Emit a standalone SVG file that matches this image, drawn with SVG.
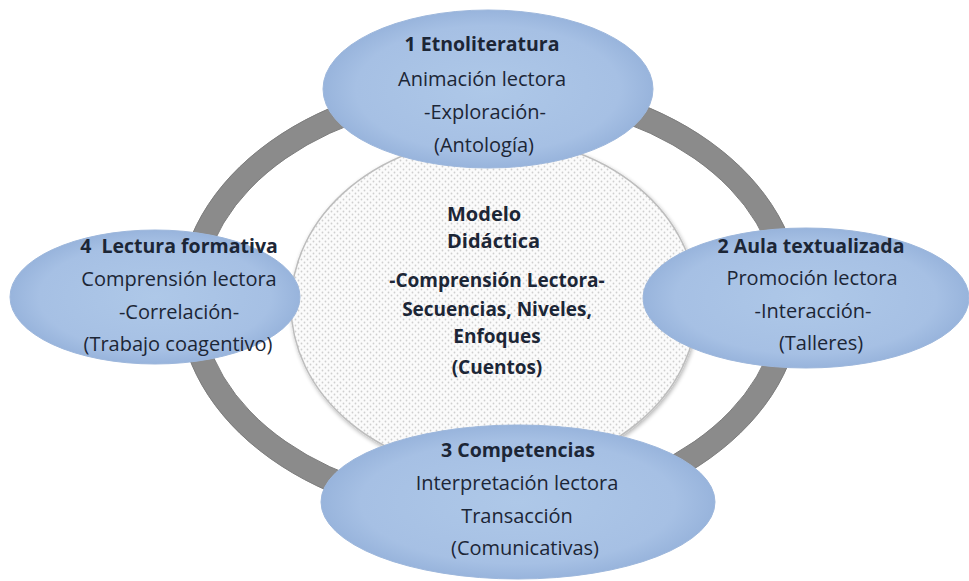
<svg xmlns="http://www.w3.org/2000/svg" width="969" height="581" viewBox="0 0 969 581">
<defs>
<radialGradient id="blue" cx="50%" cy="50%" r="50%">
<stop offset="0%" stop-color="#aec8e8"/>
<stop offset="80%" stop-color="#a6c0e4"/>
<stop offset="100%" stop-color="#98b4dc"/>
</radialGradient>
<pattern id="dots" width="6" height="6" patternUnits="userSpaceOnUse">
<rect width="6" height="6" fill="#fbfbfb"/>
<circle cx="1.5" cy="1.5" r="0.9" fill="#cfcfcf"/>
<circle cx="4.5" cy="4.5" r="0.9" fill="#cfcfcf"/>
</pattern>
<filter id="shadow" x="-10%" y="-10%" width="120%" height="120%">
<feGaussianBlur in="SourceAlpha" stdDeviation="2"/>
<feOffset dx="1" dy="2"/>
<feComponentTransfer><feFuncA type="linear" slope="0.3"/></feComponentTransfer>
<feMerge><feMergeNode/><feMergeNode in="SourceGraphic"/></feMerge>
</filter>
</defs>
<style>
.node{fill:url(#blue);stroke:#9db7dc;stroke-width:1}
.t{font-family:"Open Sans","Liberation Sans",sans-serif;fill:#1c2636;text-anchor:middle}
.b{font-weight:bold;font-size:19.5px}
.r{font-size:20px}
.c{font-weight:bold;font-size:19px}
.ring{fill:none;stroke:#8b8b8b;stroke-width:23}
.ringedge{fill:none;stroke:#7d7d7d;stroke-width:1}
</style>
<rect width="969" height="581" fill="#ffffff"/>
<g id="connectors">
<ellipse class="ring" cx="490" cy="300" rx="300" ry="212"/>
<ellipse class="ringedge" cx="490" cy="300" rx="311.5" ry="223.5"/>
<ellipse class="ringedge" cx="490" cy="300" rx="288.5" ry="200.5"/>
</g>
<g id="node-center">
<ellipse cx="494" cy="305" rx="203" ry="167" fill="url(#dots)" stroke="#bdbdbd" stroke-width="1.5" filter="url(#shadow)"/>
<text class="t" x="447" y="221" font-weight="bold" font-size="20" style="text-anchor:start">Modelo</text>
<text class="t" x="447" y="248" font-weight="bold" font-size="20" style="text-anchor:start">Didáctica</text>
<text class="t c" x="497" y="287">-Comprensión Lectora-</text>
<text class="t c" x="497" y="316">Secuencias, Niveles,</text>
<text class="t c" x="497" y="343">Enfoques</text>
<text class="t c" x="497" y="374">(Cuentos)</text>
</g>
<g id="node-1">
<ellipse class="node" cx="488" cy="89" rx="165" ry="79"/>
<text class="t b" x="482" y="51">1 Etnoliteratura</text>
<text class="t r" x="482" y="86">Animación lectora</text>
<text class="t r" x="485" y="119">-Exploración-</text>
<text class="t r" x="484" y="152">(Antología)</text>
</g>
<g id="node-4">
<ellipse class="node" cx="155" cy="297" rx="145" ry="67"/>
<text class="t b" x="179" y="253" xml:space="preserve">4  Lectura formativa</text>
<text class="t r" x="179" y="286">Comprensión lectora</text>
<text class="t r" x="179" y="319">-Correlación-</text>
<text class="t r" x="178" y="351">(Trabajo coagentivo)</text>
</g>
<g id="node-2">
<ellipse class="node" cx="806" cy="298" rx="163" ry="70"/>
<text class="t b" x="811" y="253">2 Aula textualizada</text>
<text class="t r" x="812" y="285">Promoción lectora</text>
<text class="t r" x="813" y="318">-Interacción-</text>
<text class="t r" x="821" y="350">(Talleres)</text>
</g>
<g id="node-3">
<ellipse class="node" cx="518" cy="502" rx="197" ry="77"/>
<text class="t b" x="518" y="457">3 Competencias</text>
<text class="t r" x="517" y="490">Interpretación lectora</text>
<text class="t r" x="517" y="523">Transacción</text>
<text class="t r" x="525" y="555">(Comunicativas)</text>
</g>
</svg>
